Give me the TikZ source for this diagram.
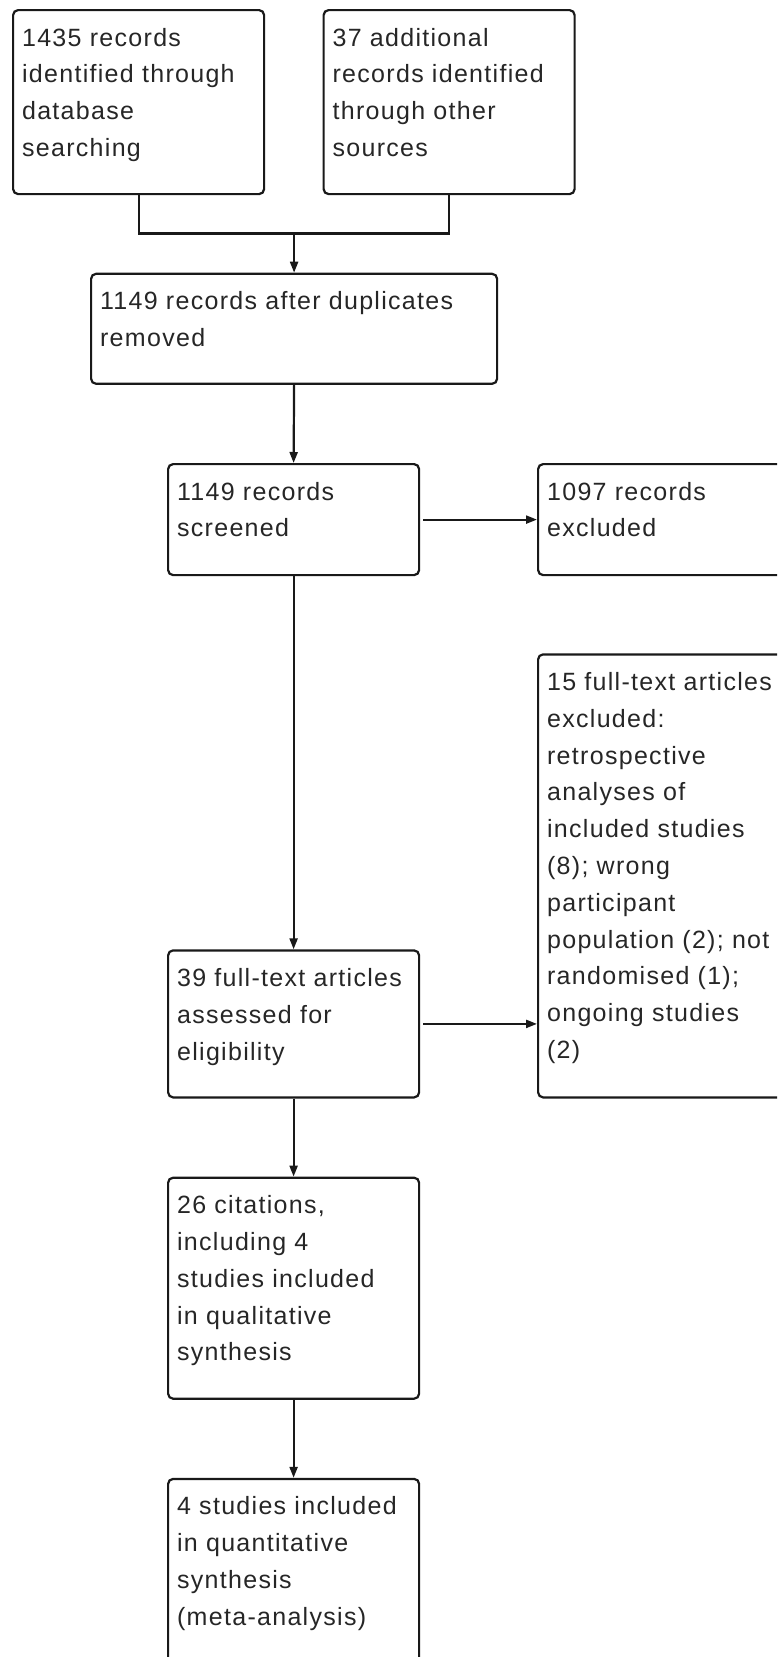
\documentclass[tikz,border=0pt]{standalone}
\usepackage{fontspec}
\setmainfont{Liberation Sans}[LetterSpace=5.2]
\usetikzlibrary{arrows.meta}
\newcommand{\bxt}[3]{\parbox[c][#2][t]{#1}{\raggedright\leftskip=9pt\parindent=0pt\baselineskip=36.8pt\lineskiplimit=-20pt\rule{0pt}{36pt}#3}}
\tikzset{
  boxnode/.style={draw=black!90, line width=2.2pt, rounded corners=5pt, inner sep=0pt, anchor=north west, text=black!85, font=\fontsize{25pt}{36.8pt}\selectfont},
  conn/.style={draw=black!90, line width=2.2pt},
  arr/.style={conn, -{Triangle[length=11pt,width=8pt]}}
}
\begin{document}
\begin{tikzpicture}[x=1pt,y=1pt]
\useasboundingbox (0,0) rectangle (777,-1657);
\clip (0,0) rectangle (777,-1657);
\node[boxnode] (a) at (12,-9) {\bxt{251pt}{184pt}{1435 records\\identified through\\database\\searching}};
\node[boxnode] (b) at (322.5,-9) {\bxt{251pt}{184pt}{37 additional\\records identified\\through other\\sources}};
\node[boxnode] (c) at (90,-272.7) {\bxt{406pt}{110pt}{1149 records after duplicates\\removed}};
\node[boxnode] (d) at (167,-463) {\bxt{251pt}{111pt}{1149 records\\screened}};
\node[boxnode] (e) at (537,-463) {\bxt{251pt}{111pt}{1097 records\\excluded}};
\node[boxnode] (f) at (537,-653.3) {\bxt{251pt}{443pt}{15 full-text articles\\excluded:\\retrospective\\analyses of\\included studies\\(8); wrong\\participant\\population (2); not\\randomised (1);\\ongoing studies\\(2)}};
\node[boxnode] (g) at (167,-949.3) {\bxt{251pt}{147pt}{39 full-text articles\\assessed for\\eligibility}};
\node[boxnode] (h) at (167,-1176.6) {\bxt{251pt}{221pt}{26 citations,\\including 4\\studies included\\in qualitative\\synthesis}};
\node[boxnode] (i) at (167,-1477.8) {\bxt{251pt}{240pt}{4 studies included\\in quantitative\\synthesis\\(meta-analysis)}};
\coordinate (jn) at (c.north |- 0,-233.5);
\draw[conn] (a.south) |- (jn) -| (b.south);
\draw[arr] (jn) -- (c.north);
\draw[arr] (c.south) -- (d.north);
\draw[arr, shorten <=3pt] (d.east) -- (e.west |- d.east);
\draw[arr] (d.south) -- (g.north);
\draw[arr, shorten <=3pt] (g.east) -- (f.west |- g.east);
\draw[arr] (g.south) -- (h.north);
\draw[arr] (h.south) -- (i.north);
\end{tikzpicture}
\end{document}
